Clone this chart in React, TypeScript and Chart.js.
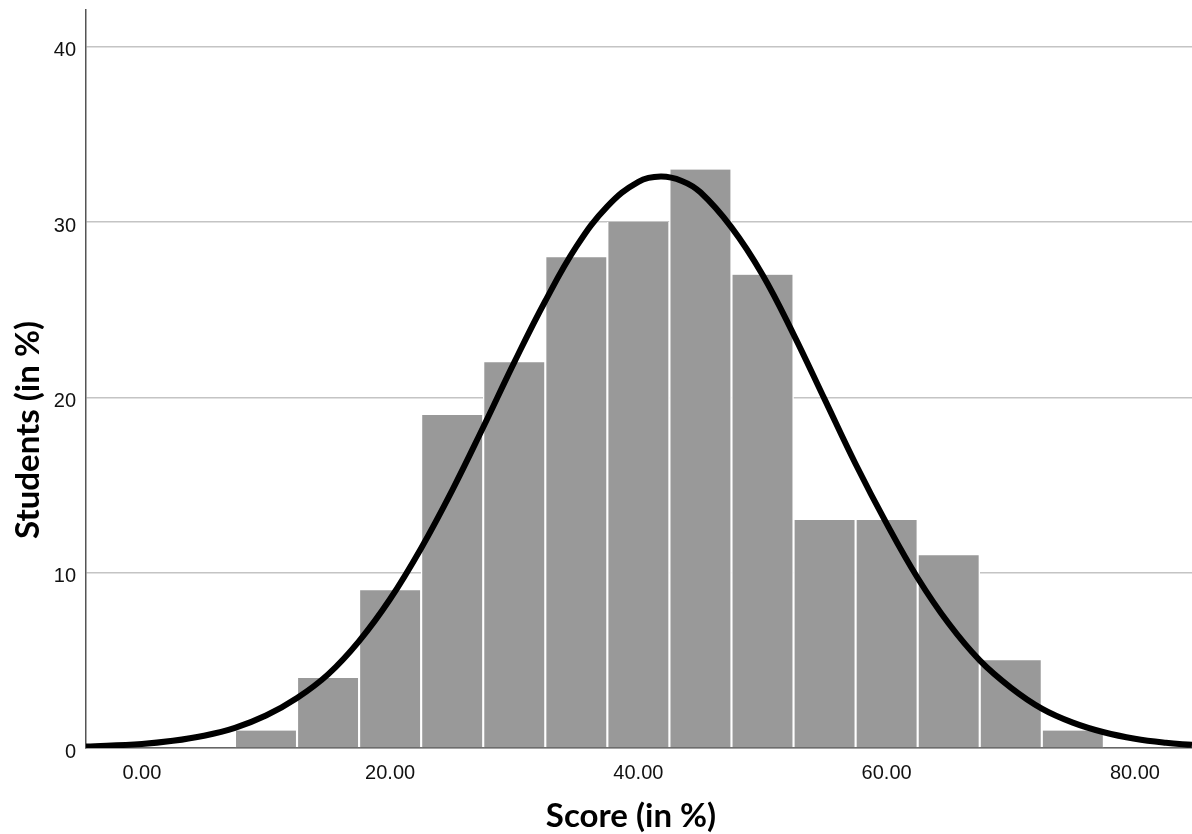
import { useEffect, useRef } from "react";
import { Chart, registerables } from "chart.js";

Chart.register(...registerables);

// Histogram bins (centre of each 5-point bin) and counts
const binCenters = [10, 15, 20, 25, 30, 35, 40, 45, 50, 55, 60, 65, 70, 75];
const binCounts = [1, 4, 9, 19, 22, 28, 30, 33, 27, 13, 13, 11, 5, 1];

// Normal curve
const curveX = [-4.5, 0, 2.5, 5, 7.5, 10, 12.5, 15, 17.5, 20, 22.5, 25, 27.5, 30, 32.5, 35, 37.5, 40, 41.8, 43.5, 45, 47.5, 50, 52.5, 55, 57.5, 60, 62.5, 65, 67.5, 70, 72.5, 75, 77.5, 80, 82.5, 84.6];
const curveY = [0.08, 0.23, 0.41, 0.7, 1.15, 1.85, 2.85, 4.2, 6.1, 8.5, 11.4, 14.7, 18.3, 22.0, 25.5, 28.6, 30.9, 32.3, 32.6, 32.35, 31.7, 29.7, 27.0, 23.6, 19.9, 16.2, 12.8, 9.7, 7.1, 5.0, 3.45, 2.25, 1.45, 0.9, 0.53, 0.3, 0.18];

const xTicks = [0, 20, 40, 60, 80];
const yTicks = [0, 10, 20, 30, 40];
const xTitle = "Score (in %)";
const yTitle = "Students (in %)";

const titlePlugin = {
  id: "axisTitles",
  afterDraw(chart: any) {
    const ctx = chart.ctx;
    ctx.save();
    ctx.fillStyle = "#000000";
    ctx.font = "bold 33px Lato, 'Open Sans', sans-serif";
    ctx.textAlign = "center";
    ctx.textBaseline = "middle";
    ctx.fillText(xTitle, 631, 816);
    ctx.translate(28, 430);
    ctx.rotate(-Math.PI / 2);
    ctx.fillText(yTitle, 0, 0);
    ctx.restore();
  },
};

export default function App() {
  const ref = useRef<HTMLCanvasElement | null>(null);

  useEffect(() => {
    if (!ref.current) return;
    const tickFont = { family: "'Liberation Sans', Arial, sans-serif", size: 20 };
    const chart = new Chart(ref.current, {
      type: "bar",
      data: {
        datasets: [
          {
            type: "line" as const,
            data: curveX.map((x, i) => ({ x, y: curveY[i] })),
            borderColor: "#000000",
            borderWidth: 6,
            pointRadius: 0,
            tension: 0.4,
            fill: false,
            order: 0,
          },
          {
            type: "bar" as const,
            data: binCenters.map((x, i) => ({ x, y: binCounts[i] })),
            backgroundColor: "#999999",
            borderColor: "#ffffff",
            borderWidth: { left: 1.4, right: 1.4, top: 0, bottom: 0 },
            barPercentage: 1,
            categoryPercentage: 1,
            order: 1,
          },
        ] as any,
      },
      options: {
        animation: false,
        responsive: true,
        maintainAspectRatio: false,
        layout: { padding: { top: 10, right: 0, left: 0, bottom: 0 } },
        plugins: { legend: { display: false }, tooltip: { enabled: false } },
        scales: {
          x: {
            type: "linear",
            min: -4.5,
            max: 84.6,
            offset: false,
            afterBuildTicks: (axis: any) => {
              axis.ticks = xTicks.map((v) => ({ value: v }));
            },
            afterFit: (axis: any) => {
              axis.height = 86;
              axis.paddingLeft = 0;
              axis.paddingRight = 0;
            },
            ticks: {
              font: tickFont,
              color: "#111111",
              padding: 13,
              maxRotation: 0,
              autoSkip: false,
              callback: (v: any) => Number(v).toFixed(2),
            },
            grid: { display: false, drawTicks: false },
            border: { display: true, color: "#666666", width: 1.5 },
          },
          y: {
            type: "linear",
            min: 0,
            max: 42.1,
            afterBuildTicks: (axis: any) => {
              axis.ticks = yTicks.map((v) => ({ value: v }));
            },
            afterFit: (axis: any) => {
              axis.width = 86;
              axis.paddingTop = 0;
              axis.paddingBottom = 0;
            },
            ticks: {
              font: tickFont,
              color: "#111111",
              padding: 10,
              labelOffset: 4,
              autoSkip: false,
            },
            grid: { color: "#c4c4c4", lineWidth: 1.5, drawTicks: false },
            border: { display: true, color: "#555555", width: 1.5 },
          },
        },
      } as any,
      plugins: [titlePlugin],
    });
    return () => chart.destroy();
  }, []);

  return (
    <div style={{ position: "fixed", left: 0, top: 0, width: 1192, height: 834, background: "#ffffff" }}>
      <canvas ref={ref} />
    </div>
  );
}
